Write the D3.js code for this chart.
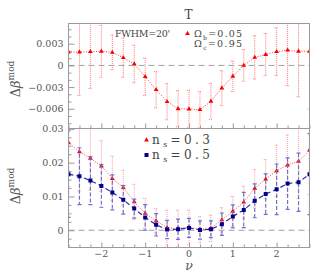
<!DOCTYPE html>
<html><head><meta charset="utf-8">
<script src="https://cdn.jsdelivr.net/npm/d3@7"></script>
<style>body{margin:0;background:#fff}svg{display:block}</style>
</head><body>
<svg id="c" width="319" height="277"></svg>
<script>
// ---- data ----
const nu = [-2.75,-2.5,-2.25,-2,-1.75,-1.5,-1.25,-1,-0.75,-0.5,-0.25,0,0.25,0.5,0.75,1,1.25,1.5,1.75,2,2.25,2.5,2.75];
const tVal = [0.00185,0.00185,0.0019,0.00195,0.0018,0.00107,0.0002,-0.00156,-0.00336,-0.00502,-0.006,-0.00603,-0.00613,-0.00497,-0.00313,-0.00151,0.0,0.0011,0.0015,0.0019,0.0021,0.00195,0.00195];
const tErr = [0.008,0.006,0.0051,0.0036,0.0024,0.0027,0.0026,0.0026,0.0025,0.0025,0.0025,0.0026,0.0025,0.0025,0.0024,0.0021,0.0022,0.003,0.0029,0.0033,0.0049,0.0063,0.008];
const ns3Val = [0.0259,0.0232,0.0213,0.0190,0.0153,0.0126,0.0084,0.0050,0.0028,0.0008,0.0005,0.0009,0.0002,0.0006,0.0031,0.0056,0.0083,0.0124,0.0151,0.0176,0.0193,0.0204,0.0237];
const ns3Err = [0.013,0.0116,0.0094,0.0075,0.0066,0.0052,0.0052,0.0044,0.0036,0.0052,0.0054,0.0051,0.0039,0.0039,0.0036,0.0044,0.0047,0.0056,0.0058,0.0076,0.0089,0.011,0.013];
const ns5Val = [0.0166,0.0160,0.0147,0.0131,0.0112,0.0090,0.0064,0.0038,0.0016,0.0002,0.0003,0.0007,0.0001,0.0003,0.0018,0.0041,0.0060,0.0087,0.0107,0.0121,0.0138,0.0142,0.0166];
const ns5Err = [0.0128,0.0084,0.0071,0.0063,0.0052,0.0042,0.0028,0.0038,0.0033,0.0027,0.003,0.0028,0.0027,0.0025,0.0033,0.0034,0.0052,0.005,0.006,0.0075,0.0076,0.0086,0.012];
const xTicks = [-2,-1,0,1,2];
const xTickLabels = ["\u22122","\u22121","0","1","2"];
const xMinor = [-2.75,-2.5,-2.25,-1.75,-1.5,-1.25,-0.75,-0.5,-0.25,0.25,0.5,0.75,1.25,1.5,1.75,2.25,2.5,2.75];
const topTicks = [-0.006,-0.003,0,0.003];
const topTickLabels = ["\u22120.006","\u22120.003","0","0.003"];
const topMinor = [-0.008,-0.007,-0.005,-0.004,-0.002,-0.001,0.001,0.002,0.004,0.005];
const botTicks = [0,0.01,0.02,0.03];
const botTickLabels = ["0","0.01","0.02","0.03"];
const botMinor = [-0.0025,0.0025,0.005,0.0075,0.0125,0.015,0.0175,0.0225,0.025,0.0275];

// ---- layout ----
const svg = d3.select("#c");
const L = 68.5, R = 309.5;
const x = d3.scaleLinear().domain([-2.75, 2.75]).range([L, R]);
const yT = d3.scaleLinear().domain([-0.00873, 0.0058]).range([128.5, 23.5]);
const yB = d3.scaleLinear().domain([-0.0051, 0.0301]).range([247.5, 128.5]);
const tickFont = "DejaVu Serif";
const frameCol = "#9a9a9a";

function panel(id, y, top, bottom, ticks, labels, minor) {
  const g = svg.append("g");
  g.append("clipPath").attr("id", id).append("rect")
    .attr("x", L).attr("y", top).attr("width", R - L).attr("height", bottom - top);
  g.append("line").attr("x1", L).attr("x2", R).attr("y1", y(0)).attr("y2", y(0))
    .attr("stroke", "#a0a0a0").attr("stroke-dasharray", "6,4").attr("stroke-width", 1);
  const ay = g.append("g").attr("transform", `translate(${L},0)`)
    .call(d3.axisLeft(y).tickValues(ticks).tickSize(-6).tickPadding(5)
      .tickFormat((d, i) => labels[i]));
  ay.select(".domain").remove();
  ay.selectAll("line").attr("stroke", frameCol);
  ay.selectAll("text").attr("font-family", tickFont).attr("font-size", 9.5).attr("fill", "#555");
  const aym = g.append("g").attr("transform", `translate(${L},0)`)
    .call(d3.axisLeft(y).tickValues(minor).tickSize(-3).tickFormat(""));
  aym.select(".domain").remove();
  aym.selectAll("line").attr("stroke", frameCol);
  const ax = g.append("g").attr("transform", `translate(0,${bottom})`)
    .call(d3.axisBottom(x).tickValues(xTicks).tickSize(-5).tickFormat(""));
  ax.select(".domain").remove();
  ax.selectAll("line").attr("stroke", frameCol);
  const axm = g.append("g").attr("transform", `translate(0,${bottom})`)
    .call(d3.axisBottom(x).tickValues(xMinor).tickSize(-3).tickFormat(""));
  axm.select(".domain").remove();
  axm.selectAll("line").attr("stroke", frameCol);
  const data = g.append("g").attr("clip-path", `url(#${id})`);
  return {g, data};
}

function series(gg, y, vals, errs, opt) {
  const pts = nu.map((n, i) => ({n, v: vals[i], e: errs[i]}));
  const eb = gg.append("g").attr("stroke", opt.errCol).attr("stroke-width", opt.errW).attr("fill", "none");
  pts.forEach(p => {
    eb.append("line").attr("x1", x(p.n)).attr("x2", x(p.n))
      .attr("y1", y(p.v + p.e)).attr("y2", y(p.v - p.e)).attr("stroke-dasharray", opt.errDash);
    [p.v + p.e, p.v - p.e].forEach(v => {
      eb.append("line").attr("x1", x(p.n) - 2).attr("x2", x(p.n) + 2)
        .attr("y1", y(v)).attr("y2", y(v)).attr("stroke-dasharray", opt.capDash);
    });
  });
  gg.append("path").datum(pts)
    .attr("d", d3.line().x(d => x(d.n)).y(d => y(d.v)))
    .attr("fill", "none").attr("stroke", opt.lineCol).attr("stroke-width", opt.lineW)
    .attr("stroke-dasharray", opt.lineDash);
  gg.selectAll(null).data(pts).enter().append("path")
    .attr("transform", d => `translate(${x(d.n)},${y(d.v)})`)
    .attr("d", d3.symbol().type(opt.sym).size(opt.symSize))
    .attr("fill", opt.markCol);
}

const redT = {errCol: "#ff7a7a", errW: 1, errDash: "1,1", capDash: "1,1", lineCol: "#ff3a3a", lineW: 1,
  lineDash: "1,1.5", sym: d3.symbolTriangle, symSize: 10, markCol: "#ff0000"};
const redB = {errCol: "#ff9a9a", errW: 1, errDash: "1,1", capDash: "1,1", lineCol: "#ff4545", lineW: 1,
  lineDash: "1,1.5", sym: d3.symbolTriangle, symSize: 10, markCol: "#ff0000"};
const blueB = {errCol: "#7070cc", errW: 1.2, errDash: "4,2", capDash: null, lineCol: "#2a2aa8", lineW: 1.2,
  lineDash: "5,3", sym: d3.symbolSquare, symSize: 16, markCol: "#00008c"};

const pT = panel("clipT", yT, 23.5, 128.5, topTicks, topTickLabels, topMinor);
series(pT.data, yT, tVal, tErr, redT);
const pB = panel("clipB", yB, 128.5, 247.5, botTicks, botTickLabels, botMinor);
series(pB.data, yB, ns3Val, ns3Err, redB);
series(pB.data, yB, ns5Val, ns5Err, blueB);

[[23.5, 128.5], [128.5, 247.5]].forEach(([t, b]) => {
  svg.append("rect").attr("x", L).attr("y", t).attr("width", R - L).attr("height", b - t)
    .attr("fill", "none").attr("stroke", frameCol).attr("stroke-width", 1);
});

// x tick labels
svg.append("g").selectAll("text").data(xTicks).enter().append("text")
  .attr("x", d => x(d)).attr("y", 257).attr("text-anchor", "middle")
  .attr("font-family", tickFont).attr("font-size", 9.5).attr("fill", "#555")
  .text((d, i) => xTickLabels[i]);

// axis titles
svg.append("text").attr("x", x(0)).attr("y", 270).attr("text-anchor", "middle")
  .attr("font-family", "DejaVu Serif").attr("font-style", "italic").attr("font-size", 12.5).attr("fill", "#555").text("\u03bd");
function ylab(cy) {
  const t = svg.append("text").attr("transform", `translate(20,${cy}) rotate(-90)`)
    .attr("text-anchor", "middle").attr("font-family", "DejaVu Serif").attr("font-size", 13).attr("fill", "#555");
  t.append("tspan").text("\u0394");
  t.append("tspan").attr("font-style", "italic").text("\u03b2");
  t.append("tspan").attr("dy", -6).attr("font-size", 9).text("mod");
}
ylab(79);
ylab(186);

// title and annotations
svg.append("text").attr("x", 188.5).attr("y", 18.5).attr("text-anchor", "middle")
  .attr("font-family", "DejaVu Serif").attr("font-size", 12).attr("fill", "#444").text("T");
svg.append("text").attr("x", 115).attr("y", 37).attr("font-family", "DejaVu Serif").attr("font-size", 9.5)
  .attr("fill", "#444").attr("textLength", 55).attr("lengthAdjust", "spacing").text("FWHM=20'");

function legText(xx, yy, main, sub, rest, len, size) {
  const t = svg.append("text").attr("x", xx).attr("y", yy).attr("font-family", "DejaVu Serif")
    .attr("font-size", size).attr("fill", "#444").attr("textLength", len).attr("lengthAdjust", "spacing");
  t.append("tspan").text(main);
  t.append("tspan").attr("dy", 2.5).attr("font-size", size * 0.65).text(sub);
  t.append("tspan").attr("dy", -2.5).text(rest);
}
svg.append("path").attr("transform", "translate(187.5,33.5)")
  .attr("d", d3.symbol().type(d3.symbolTriangle).size(10)).attr("fill", "#ff0000");
legText(194, 37, "\u03a9", "b", "=0.05", 48, 9.5);
legText(194, 47, "\u03a9", "c", "=0.95", 48, 9.5);

svg.append("path").attr("transform", "translate(146.5,140)")
  .attr("d", d3.symbol().type(d3.symbolTriangle).size(10)).attr("fill", "#ff0000");
legText(152, 144, "n", "s", "=0.3", 58, 12);
svg.append("path").attr("transform", "translate(146.5,155)")
  .attr("d", d3.symbol().type(d3.symbolSquare).size(16)).attr("fill", "#00008c");
legText(152, 159, "n", "s", "=0.5", 58, 12);
</script>
</body></html>
